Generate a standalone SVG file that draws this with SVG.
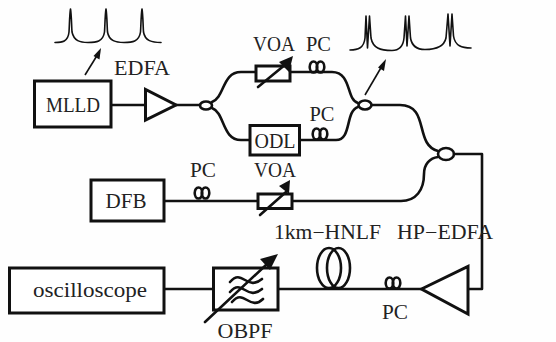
<svg xmlns="http://www.w3.org/2000/svg" width="556" height="342" viewBox="0 0 556 342">
<style>
.l{fill:none;stroke:#111;stroke-width:2.6;stroke-linecap:round;stroke-linejoin:round}
.t{fill:none;stroke:#111;stroke-width:1.6;stroke-linecap:round;stroke-linejoin:round}
.b{fill:#fff;stroke:#111;stroke-width:3}
.a{stroke:#111;stroke-width:1.6;fill:none}
.f{fill:#111;stroke:none}
text{font-family:"Liberation Serif","DejaVu Serif",serif;fill:#222;font-size:20px;text-anchor:middle}
</style>
<defs>
<g id="pc"><ellipse cx="-3.500" cy="0" rx="3.800" ry="5.500" class="l"/><ellipse cx="3.500" cy="0" rx="3.800" ry="5.500" class="l"/></g>
</defs>
<rect width="556" height="342" fill="#fefefe"/>
<g id="connectors">
<path class="l" d="M111 105H145"/>
<path class="l" d="M176 105H200"/>
<path class="l" d="M212 102C225 97 222 72 241 72H256"/>
<path class="l" d="M212 108C225 113 222 140 241 140H250"/>
<path class="l" d="M291 72H332C352 72 346 100 358 103"/>
<path class="l" d="M300 140H336C352 140 345 111 358 107"/>
<path class="l" d="M372 105H400C430 105 414 145 438 151"/>
<path class="l" d="M164 201H258"/>
<path class="l" d="M292 201H401C416 201 424 190 424 174C424 164 430 158 438 157"/>
<path class="l" d="M454 154H482V289H468"/>
<path class="l" d="M164 289H213"/>
<path class="l" d="M278 289H421"/>
</g>
<g id="spectrum1"><path class="t" d="M55 42.500C62 42.500 68 42 69 32C69.500 25 69.500 15 70.500 9C71.500 15 71.500 25 72 32C74 41 80 42.500 88 42.500C96 42.500 103 42 104.500 32C105 25 105 15 106 9C107 15 107 25 107.500 32C109 41 116 42.500 124 42.500C132 42.500 139 42 140.500 32C141 25 141 15 142 9C143 15 143 25 143.500 32C145 41 152 42.500 161 42.500"/></g>
<g id="arrow1"><path class="a" d="M85 75L98 54"/><path class="f" d="M101 48L99.500 59.500L93.500 56Z"/></g>
<g id="spectrum2"><path class="t" d="M350 50C358 50 364 48 365 38L366 16L367.500 48L369.500 16L371 38C373 48 380 50.500 392 50.500C398 50.500 403 48 404 38L405.500 16L407 46L409 16L410.500 38C412 47 418 49.500 425 49.500C436 49.500 444 47 446 38L448 14L450 46L452 14L453.500 36C455 46 462 48 471 48"/></g>
<g id="arrow2"><path class="a" d="M365 95L382 66"/><path class="f" d="M386 59L384 71L378 67.500Z"/></g>
<g id="MLLD"><rect class="b" x="34.500" y="81" width="76.500" height="46"/><text x="73" y="112" textLength="54" lengthAdjust="spacingAndGlyphs">MLLD</text></g>
<g id="EDFA"><path class="b" d="M145.500 89.500V120L176 105Z"/><text x="142" y="75" textLength="56" lengthAdjust="spacingAndGlyphs">EDFA</text></g>
<g id="coupler1"><ellipse class="l" cx="206" cy="105.500" rx="6" ry="4"/></g>
<g id="coupler2"><ellipse class="l" cx="365" cy="105" rx="6.500" ry="4.500"/></g>
<g id="coupler3"><ellipse class="l" cx="446" cy="154" rx="8" ry="6"/></g>
<g id="VOA1"><rect class="b" x="256" y="66" width="34" height="15"/><path class="l" d="M258 87L286 64"/><path class="f" d="M293 56L289 72L279 62Z"/><text x="274" y="51" textLength="42" lengthAdjust="spacingAndGlyphs">VOA</text></g>
<g id="PC1"><use href="#pc" x="317" y="67"/><text x="318.500" y="51" textLength="25" lengthAdjust="spacingAndGlyphs">PC</text></g>
<g id="ODL"><rect class="b" x="250" y="125.500" width="49.500" height="29.500"/><text x="275" y="148" textLength="41" lengthAdjust="spacingAndGlyphs">ODL</text></g>
<g id="PC2"><use href="#pc" x="320" y="134"/><text x="322" y="121" textLength="25" lengthAdjust="spacingAndGlyphs">PC</text></g>
<g id="DFB"><rect class="b" x="91" y="180" width="73" height="41"/><text x="126" y="208" textLength="41" lengthAdjust="spacingAndGlyphs">DFB</text></g>
<g id="PC3"><use href="#pc" x="202" y="193"/><text x="203" y="177" textLength="26" lengthAdjust="spacingAndGlyphs">PC</text></g>
<g id="VOA2"><rect class="b" x="258" y="194" width="34" height="14.500"/><path class="l" d="M260 215L286 192"/><path class="f" d="M290 180L289 194L279 186Z"/><text x="275" y="177" textLength="42" lengthAdjust="spacingAndGlyphs">VOA</text></g>
<g id="oscilloscope"><rect class="b" x="9.500" y="268" width="154.500" height="45"/><text x="90" y="297" textLength="114" lengthAdjust="spacingAndGlyphs">oscilloscope</text></g>
<g id="OBPF"><rect class="b" x="213.500" y="268" width="64.500" height="42"/>
<path class="l" d="M230 282C236 275 240 277 245 280C250 283 255 285 262 279"/>
<path class="l" d="M230 292C236 285 240 287 245 290C250 293 255 295 262 289"/>
<path class="l" d="M232 302C238 295 242 297 247 300C252 303 257 305 263 299"/>
<path class="l" d="M205 322L266 265"/><path class="f" d="M278 254L270 270L260 259Z"/>
<text x="245" y="338" textLength="55" lengthAdjust="spacingAndGlyphs">OBPF</text></g>
<g id="HNLF"><ellipse class="l" cx="329" cy="268" rx="12" ry="20"/><ellipse class="l" cx="338.500" cy="268" rx="11.500" ry="20"/><text x="327.500" y="239" textLength="107" lengthAdjust="spacingAndGlyphs">1km−HNLF</text></g>
<g id="PC4"><use href="#pc" x="393" y="283"/><text x="395" y="319" textLength="26" lengthAdjust="spacingAndGlyphs">PC</text></g>
<g id="HP-EDFA"><path class="b" d="M421.500 289L468 266.500V314Z"/><text x="445" y="239" textLength="96" lengthAdjust="spacingAndGlyphs">HP−EDFA</text></g>
</svg>
